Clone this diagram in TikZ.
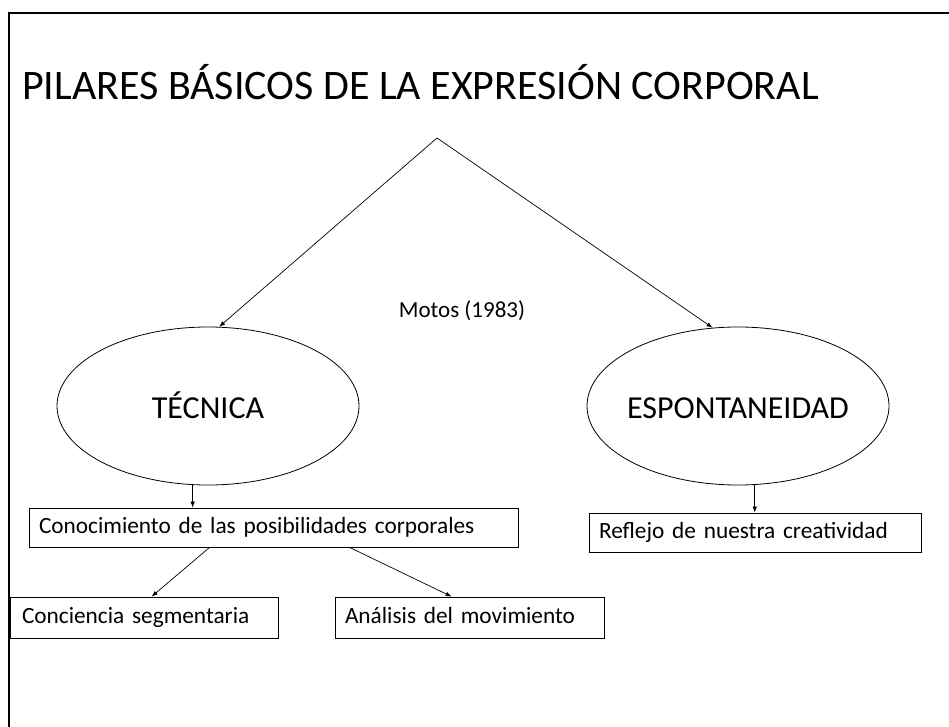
\documentclass[tikz,border=0pt]{standalone}
\usepackage{fontspec}
\setmainfont{Carlito}
\usetikzlibrary{shapes.geometric,arrows.meta,calc}
\tikzset{
  arr/.style={-{Latex[length=6pt,width=4.5pt]}, line width=0.7pt},
  oval/.style={draw, ellipse, line width=0.8pt, inner sep=0pt, minimum width=302pt, minimum height=158pt},
  ovaltext/.style={inner sep=0pt, font=\fontsize{32}{38}\selectfont, text height=24pt, text depth=0pt},
  tbox/.style={draw, rectangle, line width=0.8pt, inner ysep=0pt, minimum height=39pt, align=left, font=\fontsize{23.3}{28}\selectfont, text height=17pt, text depth=5pt},
}
\begin{document}
\begin{tikzpicture}[x=1pt,y=-1pt]
\useasboundingbox (0,0) rectangle (949,727);
\draw[line width=1.2pt] (9,727) -- (9,13) -- (949,13);
\node[anchor=base west, font=\fontsize{42}{50}\selectfont, inner sep=0pt] (title) at (22,100) {PILARES BÁSICOS DE LA EXPRESIÓN CORPORAL};
\coordinate (apex) at (437,138);
\node[font=\fontsize{23}{27}\selectfont] (motos) at (462,311) {Motos (1983)};
\node[oval] (lt) at (208,406) {};
\node[ovaltext] (ltt) at (lt.center) {TÉCNICA};
\node[oval] (rt) at (738,406) {};
\node[ovaltext] (rtt) at (rt.center) {ESPONTANEIDAD};
\node[tbox, minimum width=489pt, text width=469pt, inner xsep=10pt] (cono) at (273.5,527.5) {Conocimiento de las posibilidades corporales};
\node[tbox, minimum width=332pt, text width=312pt, inner xsep=10pt] (refl) at (755,532.5) {Reflejo de nuestra creatividad};
\node[tbox, minimum width=268pt, minimum height=41pt, text width=244pt, inner xsep=12pt] (conc) at (144,617.5) {Conciencia segmentaria};
\node[tbox, minimum width=269pt, minimum height=41pt, text width=249pt, inner xsep=10pt] (anal) at (469.5,617.5) {Análisis del movimiento};
\draw[arr] (apex) -- (lt.82);
\draw[arr] (apex) -- (rt.108);
\draw[arr] (lt.259) -- (lt.259 |- cono.north);
\draw[arr] (rt.282) -- (rt.282 |- refl.north);
\draw[arr] ([xshift=181pt]cono.south west) -- ([xshift=142pt]conc.north west);
\draw[arr] ([xshift=321pt]cono.south west) -- ([xshift=117pt]anal.north west);
\end{tikzpicture}
\end{document}
